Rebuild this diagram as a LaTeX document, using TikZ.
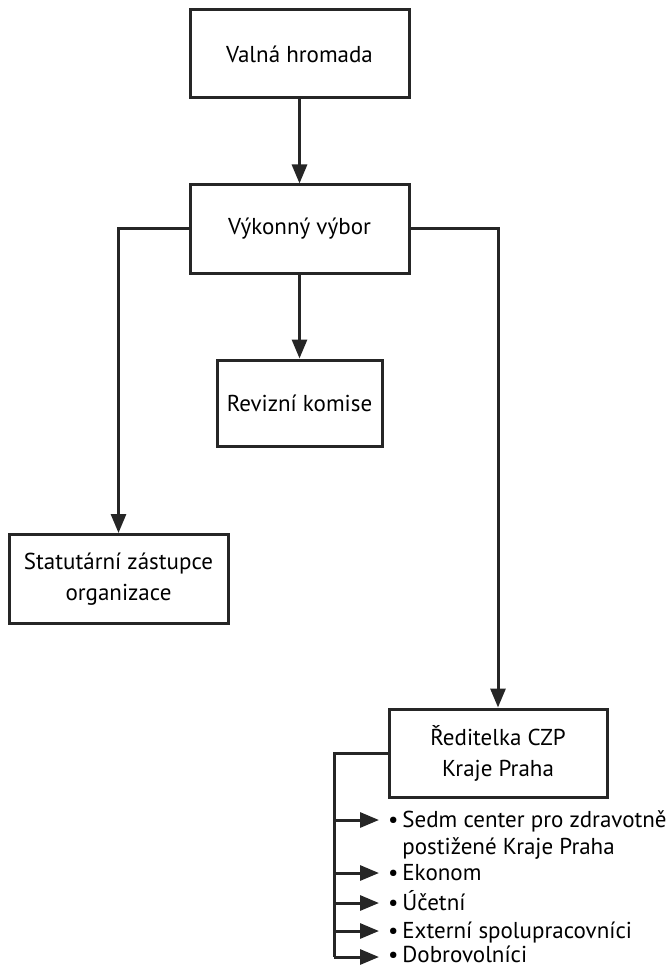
\documentclass[tikz,border=0pt]{standalone}
\usepackage{fontspec}
\setmainfont{PT Sans}
\usetikzlibrary{arrows.meta}
\begin{document}
\begin{tikzpicture}[x=1pt,y=-1pt,
  box/.style={draw=black!85,line width=3pt,minimum width=219pt,minimum height=88pt,align=center,font=\fontsize{23}{31}\selectfont,inner sep=0pt},
  conn/.style={draw=black!85,line width=3pt},
  arr/.style={conn,-{Triangle[length=19pt,width=15pt]}},
  item/.style={anchor=base west,inner sep=0pt,align=left,font=\fontsize{23}{27}\selectfont}]
\useasboundingbox (0,0) rectangle (669,968);
\node[box] (valna) at (299.5,54) {Valná hromada};
\node[box] (vykon) at (299.5,229) {Výkonný výbor};
\node[box,minimum width=165pt,minimum height=86pt] (rev) at (299.5,403) {Revizní komise};
\node[box,minimum width=219pt,minimum height=89pt] (stat) at (118.5,579) {Statutární zástupce\\organizace};
\node[box,minimum width=218pt,minimum height=88pt] (red) at (498,753) {Ředitelka CZP\\Kraje Praha};
\draw[arr] (valna.south) -- (vykon.north);
\draw[arr] (vykon.south) -- (rev.north);
\draw[arr] (vykon.west) -| (stat.north);
\draw[arr] (vykon.east) -| (red.north);
\node[item] (i1) at (388,854) {•\,Sedm center pro zdravotně\\\hphantom{•\,}postižené Kraje Praha};
\node[item] (i2) at (388,880) {•\,Ekonom};
\node[item] (i3) at (388,910) {•\,Účetní};
\node[item] (i4) at (388,938) {•\,Externí spolupracovníci};
\node[item] (i5) at (388,962) {•\,Dobrovolníci};
\coordinate (bx) at (334,753);
\coordinate (by) at (334,957);
\draw[conn] (red.west) -- (bx) -- (by);
\draw[arr] (334,820) -- (379,820);
\draw[arr] (334,873) -- (379,873);
\draw[arr] (334,903) -- (379,903);
\draw[arr] (334,931) -- (379,931);
\draw[arr] (by) -- (379,957);
\end{tikzpicture}
\end{document}
